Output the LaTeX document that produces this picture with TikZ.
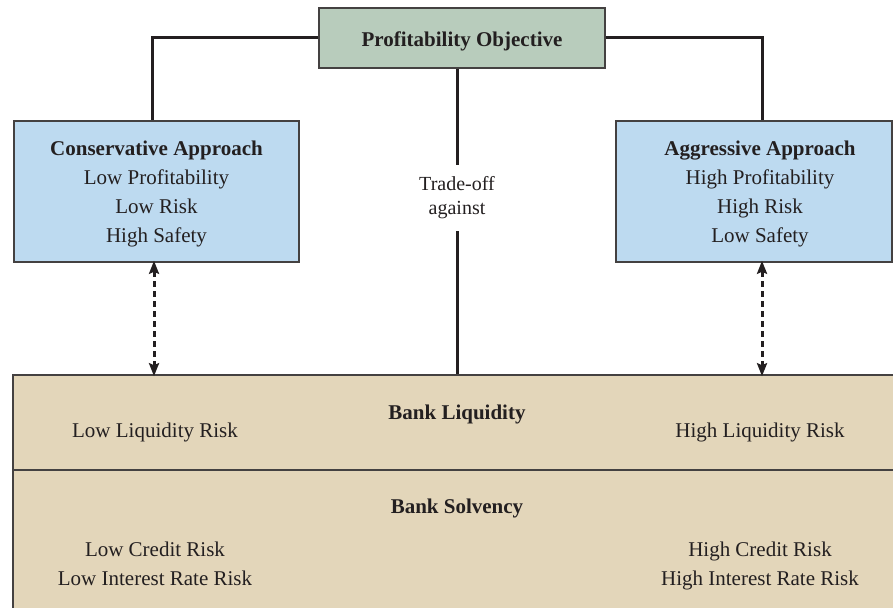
\documentclass[tikz,border=0pt]{standalone}
\usepackage{fontspec}
\setmainfont{Liberation Serif}
\usetikzlibrary{positioning, arrows.meta}
\definecolor{profitfill}{HTML}{B8CCBC}
\definecolor{approachfill}{HTML}{BDDAF0}
\definecolor{bankfill}{HTML}{E3D6BA}
\definecolor{edgegray}{HTML}{231F20}

\begin{document}
\begin{tikzpicture}[x=1pt, y=-1pt,
    box/.style={draw=edgegray!85, line width=1.6pt, inner sep=0pt},
    link/.style={draw=edgegray, line width=3pt},
    dasharrow/.style={draw=edgegray, line width=3pt, dash pattern=on 6pt off 4pt,
                      {Stealth[length=13pt, width=10pt, inset=2pt]}-{Stealth[length=13pt, width=10pt, inset=2pt]}},
    body/.style={font=\fontsize{21}{29}\selectfont, align=center, text=edgegray},
    head/.style={font=\fontsize{21}{29}\selectfont\bfseries, text=edgegray}]
   \useasboundingbox (0,0) rectangle (893,607);

   % boxes
   \node[box, fill=profitfill, minimum width=286pt, minimum height=60pt] (profit) at (462,38) {};
   \node[head] at (462,41) {Profitability Objective};
   \node[box, fill=approachfill, minimum width=285pt, minimum height=141pt] (conserv) at (156.5,191.5) {};
   \node[body] at (156.5,194) {\textbf{Conservative Approach}\\Low Profitability\\Low Risk\\High Safety};
   \node[box, fill=approachfill, minimum width=276pt, minimum height=141pt] (aggress) at (754,191.5) {};
   \node[body] at (760,194) {\textbf{Aggressive Approach}\\High Profitability\\High Risk\\Low Safety};
   \node[box, fill=bankfill, minimum width=892pt, minimum height=95pt] (liquidity) at (459,422.5) {};
   \node[box, fill=bankfill, minimum width=892pt, minimum height=140pt] (solvency) at (459,540) {};

   % bank texts
   \node[head] (liqtitle) at (457,414) {Bank Liquidity};
   \node[body] (liqlow) at (155,432) {Low Liquidity Risk};
   \node[body] (liqhigh) at (760,432) {High Liquidity Risk};
   \node[head] (soltitle) at (457,508) {Bank Solvency};
   \node[body, anchor=base] (sollow) at (155,585) {Low Credit Risk\\Low Interest Rate Risk};
   \node[body, anchor=base] (solhigh) at (760,585) {High Credit Risk\\High Interest Rate Risk};

   \node[font=\fontsize{20}{24}\selectfont, align=center, text=edgegray, inner ysep=12pt]
      (tradeoff) at (457,198) {Trade-off\\against};

   % connectors
   \draw[link] (profit.west) -| ([xshift=-4.5pt]conserv.north);
   \draw[link] (profit.east) -| ([xshift=8pt]aggress.north);
   \draw[link] (profit.south -| tradeoff) -- (tradeoff.north);
   \draw[link] (tradeoff.south) -- (tradeoff.south |- liquidity.north);
   \draw[dasharrow] ([xshift=-2.5pt,yshift=2pt]conserv.south) -- ([xshift=-2.5pt,yshift=-2pt]conserv.south |- liquidity.north);
   \draw[dasharrow] ([xshift=8pt,yshift=2pt]aggress.south) -- ([xshift=8pt,yshift=-2pt]aggress.south |- liquidity.north);
\end{tikzpicture}
\end{document}
